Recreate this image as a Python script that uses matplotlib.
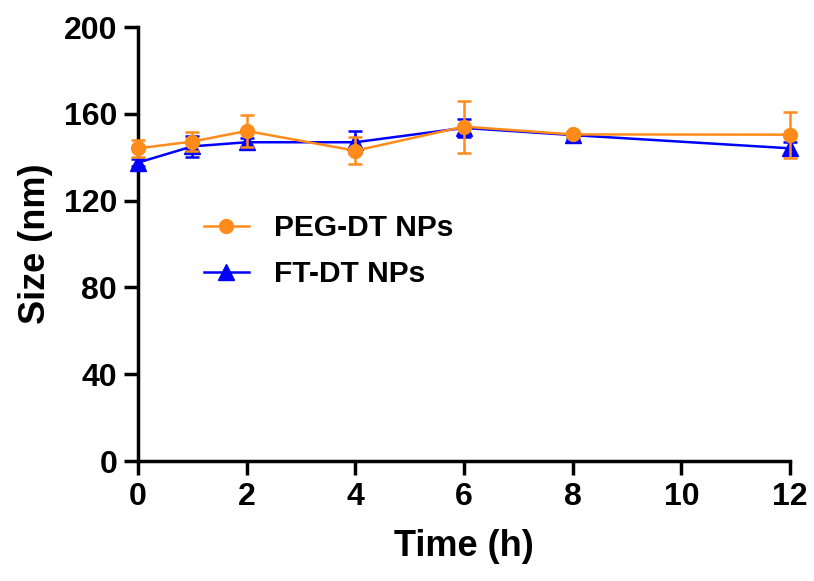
import matplotlib
matplotlib.use("Agg")
import matplotlib.pyplot as plt
from matplotlib.lines import Line2D

time_h = [0, 1, 2, 4, 6, 8, 12]
peg_mean = [144.1, 147.2, 152.1, 143.0, 154.1, 150.5, 150.4]
peg_err = [3.8, 4.5, 7.4, 6.2, 12.0, 1.0, 10.6]
ft_mean = [137.5, 145.0, 146.9, 146.9, 153.5, 150.2, 144.1]
ft_err = [1.5, 4.8, 2.0, 5.0, 4.0, 1.5, 3.0]
xticks = [0, 2, 4, 6, 8, 10, 12]
yticks = [0, 40, 80, 120, 160, 200]

plt.rcParams['font.family'] = ['Liberation Sans', 'DejaVu Sans']
plt.rcParams['font.weight'] = 'bold'

fig = plt.figure(figsize=(8.14, 5.81), dpi=100)
ax = fig.add_axes([0.1695, 0.2065, 0.801, 0.747])

orange = '#FF8C1A'
blue = '#0000FF'
lw = 1.8

ax.errorbar(time_h, ft_mean, yerr=ft_err, color=blue, marker='^', markersize=11,
            linewidth=lw, elinewidth=lw, capsize=4.7, capthick=lw,
            zorder=3, clip_on=False)
ax.errorbar(time_h, peg_mean, yerr=peg_err, color=orange, marker='o', markersize=10,
            linewidth=lw, elinewidth=lw, capsize=4.7, capthick=lw,
            zorder=4, clip_on=False)

ax.set_xlim(0, 12)
ax.set_ylim(0, 200)
ax.set_xticks(xticks)
ax.set_yticks(yticks)
ax.tick_params(axis='both', which='major', direction='out', length=10, width=2.5,
               labelsize=23, pad=5)
for lab in ax.get_xticklabels() + ax.get_yticklabels():
    lab.set_fontweight('bold')

for s in ['top', 'right']:
    ax.spines[s].set_visible(False)
for s in ['left', 'bottom']:
    ax.spines[s].set_linewidth(2.5)

ax.set_xlabel('Time (h)', fontsize=26, fontweight='bold', labelpad=12)
ax.set_ylabel('Size (nm)', fontsize=26, fontweight='bold', labelpad=8)

handles = [
    Line2D([], [], color=orange, marker='o', markersize=10, linewidth=lw),
    Line2D([], [], color=blue, marker='^', markersize=11, linewidth=lw),
]
labels = ['PEG-DT NPs', 'FT-DT NPs']
ax.legend(handles, labels, loc='upper left',
          bbox_to_anchor=(0.06, 0.63), frameon=False,
          prop={'size': 21.5, 'weight': 'bold'}, handlelength=1.5,
          handletextpad=0.85, labelspacing=0.6)

fig.savefig('out.png', dpi=100)
